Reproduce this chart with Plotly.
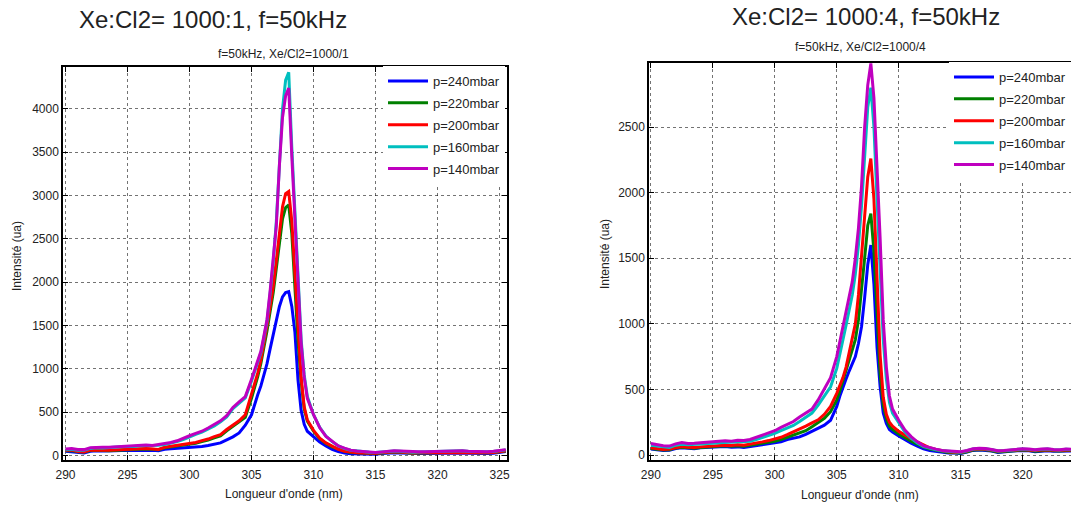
import plotly.graph_objects as go

# ---------------- data ----------------
wavelength = [290, 290.5, 291, 291.5, 292, 292.5, 293, 293.5, 294, 294.5, 295, 295.5, 296, 296.5,
              297, 297.5, 298, 298.5, 299, 299.5, 300, 300.5, 301, 301.5, 302, 302.5,
              303, 303.5, 304, 304.5, 305,
              305.25, 305.5, 305.75, 306, 306.25, 306.5, 306.75, 307, 307.25, 307.5, 307.75, 308,
              308.25, 308.5, 308.75, 309, 309.25, 309.5,
              310, 310.5, 311, 311.5, 312, 312.5, 313, 313.5, 314, 314.5, 315, 315.5, 316, 316.5,
              317, 317.5, 318, 318.5, 319, 319.5, 320, 320.5, 321, 321.5, 322, 322.5, 323, 323.5,
              324, 324.5, 325, 325.5]

# Left panel: Xe:Cl2 = 1000:1
left_p240 = [50, 45, 32, 30, 48, 55, 52, 50, 55, 58, 60, 58, 62, 64, 60, 55, 72, 78, 82, 86, 90, 98, 105, 115, 128, 145,
             180, 215, 260, 350, 470,
             590, 700, 800, 920, 1060, 1230, 1390, 1560, 1720, 1830, 1880, 1890, 1720, 1420, 870, 520, 360, 280,
             215, 155, 110, 72, 45, 28, 20, 18, 18, 17, 15, 22, 30, 32, 30, 25, 20, 22, 24, 26, 28, 26, 27, 29, 30, 27,
             24, 22, 24, 27, 33, 45]
left_p220 = [55, 58, 42, 40, 58, 62, 58, 56, 62, 64, 66, 68, 74, 76, 72, 66, 90, 100, 106, 115, 126, 140, 162, 178, 205, 226,
             285, 335, 385, 440, 660,
             780, 910, 1060, 1240, 1440, 1660, 1880, 2160, 2440, 2730, 2860, 2890, 2560, 1950, 1320, 860, 540, 395,
             280, 195, 140, 100, 70, 48, 36, 30, 27, 25, 22, 30, 38, 40, 38, 32, 27, 29, 31, 33, 35, 33, 34, 36, 38, 34,
             31, 29, 31, 34, 40, 52]
left_p200 = [60, 62, 45, 42, 62, 65, 62, 60, 65, 68, 70, 72, 78, 80, 76, 70, 95, 105, 112, 122, 135, 150, 172, 190, 218, 240,
             300, 350, 400, 470, 700,
             820, 950, 1100, 1290, 1500, 1720, 1950, 2250, 2560, 2870, 3020, 3045, 2700, 2050, 1400, 900, 560, 410,
             290, 200, 145, 105, 72, 50, 38, 33, 30, 28, 25, 32, 40, 42, 40, 34, 30, 32, 33, 35, 38, 35, 36, 38, 40, 36,
             33, 31, 33, 36, 42, 55]
left_p160 = [65, 72, 62, 60, 82, 90, 88, 90, 95, 100, 105, 104, 112, 113, 110, 118, 128, 142, 162, 185, 218, 245, 270, 305, 340, 390,
             445, 540, 605, 665, 860,
             970, 1070, 1180, 1360, 1550, 1870, 2230, 2700, 3400, 4000, 4330, 4420, 3550, 2750, 1950, 1340, 930, 680,
             470, 325, 225, 160, 110, 80, 60, 50, 44, 38, 34, 40, 48, 52, 50, 44, 38, 41, 43, 45, 48, 45, 46, 48, 56, 47,
             43, 41, 43, 47, 54, 65]
left_p140 = [75, 80, 70, 68, 90, 96, 94, 96, 100, 105, 112, 110, 118, 120, 115, 125, 135, 150, 170, 195, 228, 255, 280, 318, 355, 400,
             460, 555, 620, 680, 880,
             990, 1090, 1200, 1380, 1570, 1900, 2250, 2650, 3350, 3900, 4150, 4240, 3450, 2700, 1900, 1300, 900, 660,
             470, 320, 220, 160, 110, 85, 62, 52, 45, 40, 36, 42, 50, 54, 52, 46, 40, 42, 44, 46, 50, 46, 48, 50, 54, 48,
             44, 42, 44, 48, 56, 68]

# Right panel: Xe:Cl2 = 1000:4
right_p240 = [45, 40, 35, 36, 50, 55, 52, 48, 55, 58, 60, 62, 65, 60, 62, 58, 65, 72, 78, 82, 88, 100, 118, 130, 138, 158,
              182, 205, 228, 265, 370,
              450, 520, 580, 640, 690, 750, 850, 980, 1200, 1450, 1600, 1300, 820, 520, 320, 240, 195, 175,
              145, 115, 90, 68, 48, 35, 28, 22, 15, 15, 12, 22, 35, 38, 36, 30, 20, 22, 28, 32, 35, 33, 25, 30, 32, 28,
              28, 32, 30, 28, 30, 32]
right_p220 = [50, 45, 38, 40, 54, 60, 56, 52, 58, 62, 65, 66, 70, 66, 70, 66, 74, 82, 90, 96, 105, 118, 135, 150, 165, 185,
              215, 245, 280, 330, 420,
              490, 570, 640, 720, 790, 880, 1030, 1250, 1500, 1750, 1840, 1550, 1050, 620, 380, 280, 220, 195,
              160, 130, 105, 82, 60, 45, 35, 26, 20, 18, 15, 25, 38, 40, 40, 33, 24, 26, 30, 35, 38, 36, 28, 33, 36, 32,
              30, 34, 32, 30, 32, 36]
right_p200 = [55, 50, 42, 45, 58, 65, 60, 58, 62, 66, 70, 72, 75, 72, 78, 75, 82, 92, 100, 110, 122, 135, 155, 175, 195, 220,
              245, 268, 310, 370, 470,
              530, 590, 670, 780, 880, 1000, 1220, 1530, 1820, 2120, 2260, 1950, 1350, 760, 440, 310, 250, 220,
              180, 150, 125, 100, 75, 55, 42, 32, 25, 22, 20, 30, 42, 45, 44, 38, 28, 30, 33, 38, 42, 40, 34, 38, 40, 36,
              34, 38, 36, 34, 36, 40]
right_p160 = [75, 70, 60, 58, 75, 82, 78, 80, 84, 88, 90, 94, 96, 94, 100, 98, 104, 118, 132, 148, 165, 185, 205, 225, 255, 285,
              320, 380, 450, 520, 660,
              760, 880, 990, 1100, 1220, 1380, 1600, 1900, 2300, 2650, 2800, 2500, 1950, 1400, 880, 580, 400, 320,
              245, 175, 128, 92, 65, 50, 40, 32, 28, 26, 22, 33, 46, 50, 48, 40, 30, 33, 36, 40, 46, 43, 38, 43, 46, 40,
              38, 43, 40, 38, 40, 43]
right_p140 = [88, 80, 70, 68, 85, 95, 88, 90, 95, 100, 102, 105, 108, 105, 112, 110, 118, 135, 150, 165, 185, 210, 235, 255, 290, 320,
              350, 420, 510, 590, 750,
              860, 990, 1100, 1200, 1320, 1500, 1730, 2050, 2500, 2820, 2985, 2720, 2200, 1650, 1030, 670, 450, 350,
              265, 190, 140, 100, 70, 55, 45, 35, 30, 28, 25, 35, 48, 52, 50, 42, 32, 35, 38, 42, 48, 45, 40, 45, 48, 42,
              40, 45, 42, 40, 42, 45]

pressure_labels = ["p=240mbar", "p=220mbar", "p=200mbar", "p=160mbar", "p=140mbar"]
line_colors = ["#0000FF", "#008000", "#FF0000", "#00BFBF", "#BF00BF"]
x_ticks = [290, 295, 300, 305, 310, 315, 320, 325]
left_y_ticks = [0, 500, 1000, 1500, 2000, 2500, 3000, 3500, 4000]
right_y_ticks = [0, 500, 1000, 1500, 2000, 2500]

main_titles = ["Xe:Cl2= 1000:1, f=50kHz", "Xe:Cl2= 1000:4, f=50kHz"]
sub_titles = ["f=50kHz, Xe/Cl2=1000/1", "f=50kHz, Xe/Cl2=1000/4"]
x_title = "Longueur d'onde (nm)"
y_title = "Intensité (ua)"

left_series = [left_p240, left_p220, left_p200, left_p160, left_p140]
right_series = [right_p240, right_p220, right_p200, right_p160, right_p140]

# ---------------- figure ----------------
# The page's body margin is removed (post_script below), so the figure
# fills the window exactly; positions are given in window pixels.
W, H = 1071, 506
FONT = "Arial, 'Liberation Sans', sans-serif"


def fx(p):
    return p / W


def fy(p):
    return 1 - p / H


fig = go.Figure()
for vals, label, color in zip(left_series, pressure_labels, line_colors):
    fig.add_trace(go.Scatter(x=wavelength, y=vals, mode="lines", name=label,
                             line=dict(color=color, width=3),
                             xaxis="x", yaxis="y", legend="legend",
                             legendgroup="L" + label))
for vals, label, color in zip(right_series, pressure_labels, line_colors):
    fig.add_trace(go.Scatter(x=wavelength, y=vals, mode="lines", name=label,
                             line=dict(color=color, width=3),
                             xaxis="x2", yaxis="y2", legend="legend2",
                             legendgroup="R" + label))

common_axis = dict(showgrid=True, gridcolor="rgba(0,0,0,0.55)", gridwidth=1, griddash="dot",
                   showline=True, linecolor="black", linewidth=1.5,
                   ticks="inside", ticklen=5, tickcolor="black", zeroline=False,
                   tickfont=dict(family=FONT, size=12, color="#222"))

legend_common = dict(bgcolor="white", borderwidth=0, itemwidth=40, tracegroupgap=2,
                     font=dict(family=FONT, size=13, color="#222"))

fig.update_layout(
    width=W, height=H,
    margin=dict(l=0, r=0, t=0, b=0, autoexpand=False),
    paper_bgcolor="white", plot_bgcolor="white",
    font=dict(family=FONT, color="#222"),
    xaxis=dict(domain=[fx(63), fx(507)], range=[289.8, 325.6], anchor="y",
               tickvals=x_ticks, mirror="ticks", ticklabelstandoff=3, **common_axis),
    yaxis=dict(domain=[fy(459.5), fy(67)], range=[-46, 4482], anchor="x",
               tickvals=left_y_ticks, mirror="ticks", **common_axis),
    xaxis2=dict(domain=[fx(649), 1.0], range=[289.85, 323.9], anchor="y2",
                tickvals=x_ticks, mirror="ticks", ticklabelstandoff=3, **common_axis),
    yaxis2=dict(domain=[fy(460), fy(63)], range=[-38, 2988], anchor="x2",
                tickvals=right_y_ticks, mirror=False, **common_axis),
    legend=dict(x=fx(505), y=fy(66), xanchor="right", yanchor="top", **legend_common),
    legend2=dict(x=1.0, y=fy(62), xanchor="right", yanchor="top", **legend_common),
    showlegend=True,
)

ann = []
ann.append(dict(text=main_titles[0], x=fx(77), y=fy(19), xanchor="left", yanchor="middle",
                font=dict(size=24)))
ann.append(dict(text=main_titles[1], x=fx(730), y=fy(16), xanchor="left", yanchor="middle",
                font=dict(size=24)))
ann.append(dict(text=sub_titles[0], x=fx(283), y=fy(54), xanchor="center", yanchor="middle",
                font=dict(size=12)))
ann.append(dict(text=sub_titles[1], x=fx(860), y=fy(47), xanchor="center", yanchor="middle",
                font=dict(size=12)))
ann.append(dict(text=x_title, x=fx(284), y=fy(494), xanchor="center", yanchor="middle",
                font=dict(size=12)))
ann.append(dict(text=x_title, x=fx(860), y=fy(495), xanchor="center", yanchor="middle",
                font=dict(size=12)))
ann.append(dict(text=y_title, x=fx(17), y=fy(256), xanchor="center", yanchor="middle",
                textangle=-90, font=dict(size=12)))
ann.append(dict(text=y_title, x=fx(605), y=fy(254), xanchor="center", yanchor="middle",
                textangle=-90, font=dict(size=12)))
for a in ann:
    a.update(xref="paper", yref="paper", showarrow=False)
    a["font"].update(family=FONT, color="#222")
fig.update_layout(annotations=ann)

fig.write_html("out.html",
               config={"displayModeBar": False},
               post_script="document.body.style.margin='0px';"
                           "document.body.style.overflow='hidden';")
